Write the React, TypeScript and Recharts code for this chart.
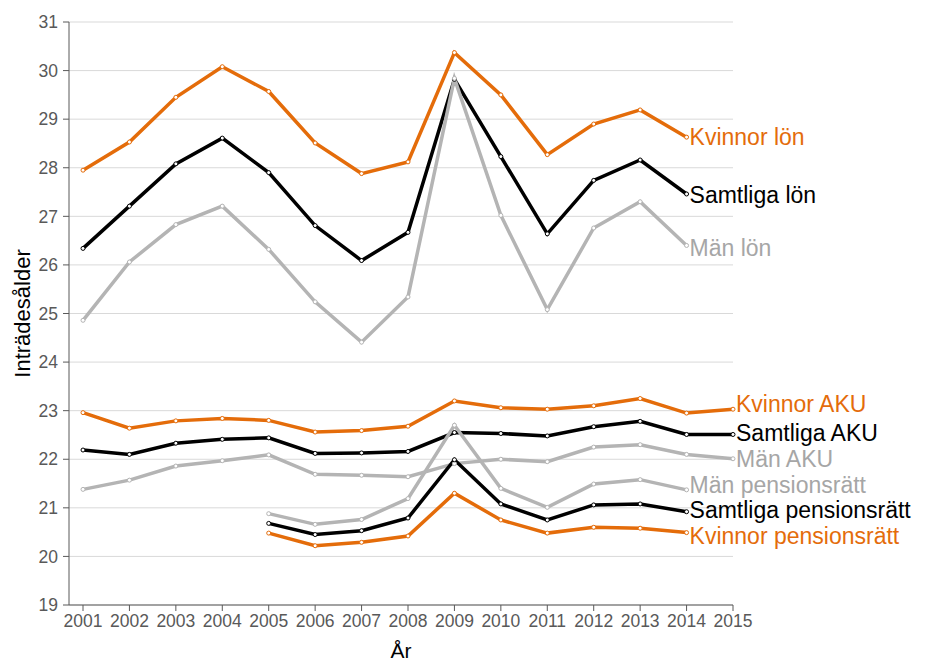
import React from 'react'
import { LineChart, Line, XAxis, YAxis, CartesianGrid } from 'recharts'

const YEARS = [2001, 2002, 2003, 2004, 2005, 2006, 2007, 2008, 2009, 2010, 2011, 2012, 2013, 2014, 2015]
const Y_TICKS = [19, 20, 21, 22, 23, 24, 25, 26, 27, 28, 29, 30, 31]

const kvinnorLon = [27.95, 28.53, 29.45, 30.08, 29.57, 28.51, 27.88, 28.12, 30.37, 29.5, 28.27, 28.9, 29.19, 28.63, null]
const samtligaLon = [26.34, 27.21, 28.08, 28.61, 27.9, 26.81, 26.09, 26.67, 29.82, 28.23, 26.64, 27.74, 28.16, 27.46, null]
const manLon = [24.86, 26.06, 26.83, 27.21, 26.32, 25.24, 24.41, 25.34, 29.84, 27.02, 25.08, 26.76, 27.3, 26.4, null]

const kvinnorAku = [22.96, 22.64, 22.79, 22.84, 22.8, 22.56, 22.59, 22.68, 23.2, 23.06, 23.03, 23.1, 23.25, 22.95, 23.03]
const samtligaAku = [22.19, 22.1, 22.33, 22.41, 22.44, 22.12, 22.13, 22.16, 22.55, 22.53, 22.48, 22.67, 22.78, 22.51, 22.51]
const manAku = [21.38, 21.57, 21.86, 21.97, 22.09, 21.69, 21.67, 21.64, 21.91, 22.0, 21.95, 22.25, 22.3, 22.1, 22.01]

const manPension = [null, null, null, null, 20.88, 20.66, 20.76, 21.19, 22.7, 21.4, 21.01, 21.49, 21.58, 21.37, null]
const samtligaPension = [null, null, null, null, 20.68, 20.45, 20.53, 20.79, 21.99, 21.08, 20.75, 21.06, 21.08, 20.92, null]
const kvinnorPension = [null, null, null, null, 20.48, 20.22, 20.29, 20.42, 21.3, 20.75, 20.48, 20.6, 20.58, 20.49, null]

const ORANGE = '#E46C0A'
const BLACK = '#000000'
const GRAY = '#B4B4B4'
const GRAY_TEXT = '#A6A6A6'
const AXIS = '#595959'

// labelDy nudges the end label so neighbouring names don't collide
const SERIES = [
  { key: 'kvinnorLon', name: 'Kvinnor lön', values: kvinnorLon, color: ORANGE, text: ORANGE, labelDy: 0 },
  { key: 'samtligaLon', name: 'Samtliga lön', values: samtligaLon, color: BLACK, text: BLACK, labelDy: 1 },
  { key: 'manLon', name: 'Män lön', values: manLon, color: GRAY, text: GRAY_TEXT, labelDy: 2 },
  { key: 'manAku', name: 'Män AKU', values: manAku, color: GRAY, text: GRAY_TEXT, labelDy: 0 },
  { key: 'samtligaAku', name: 'Samtliga AKU', values: samtligaAku, color: BLACK, text: BLACK, labelDy: -2 },
  { key: 'kvinnorAku', name: 'Kvinnor AKU', values: kvinnorAku, color: ORANGE, text: ORANGE, labelDy: -5 },
  { key: 'manPension', name: 'Män pensionsrätt', values: manPension, color: GRAY, text: GRAY_TEXT, labelDy: -5 },
  { key: 'samtligaPension', name: 'Samtliga pensionsrätt', values: samtligaPension, color: BLACK, text: BLACK, labelDy: -2 },
  { key: 'kvinnorPension', name: 'Kvinnor pensionsrätt', values: kvinnorPension, color: ORANGE, text: ORANGE, labelDy: 3 },
]

const data = YEARS.map((year, i) => {
  const row: Record<string, number | null> = { year }
  SERIES.forEach(s => { row[s.key] = s.values[i] })
  return row
})

function lastIndex(values: (number | null)[]) {
  let last = -1
  values.forEach((v, i) => { if (v != null) last = i })
  return last
}

// dot renderer that also puts the series name next to the final point
function makeDot(name: string, color: string, textColor: string, last: number, labelDy: number) {
  return (props: any) => {
    const { cx, cy, index } = props
    if (cx == null || cy == null || props.value == null) return <g key={`d-${name}-${index}`} />
    return (
      <g key={`d-${name}-${index}`}>
        <circle cx={cx} cy={cy} r={2} fill="#fff" stroke={color} strokeWidth={1} />
        {index === last && (
          <text x={cx + 3} y={cy + labelDy} dy="0.36em" fill={textColor} fontSize={23}>
            {name}
          </text>
        )}
      </g>
    )
  }
}

const XLabel = (props: any) => {
  const { viewBox } = props
  return (
    <text x={viewBox.x + viewBox.width / 2} y={650} dy="0.36em" textAnchor="middle" fill="#000" fontSize={21}>
      År
    </text>
  )
}

const YLabel = (props: any) => {
  const { viewBox } = props
  const cy = viewBox.y + viewBox.height / 2
  return (
    <text x={22} y={cy} dy="0.36em" textAnchor="middle" fill="#000" fontSize={22} transform={`rotate(-90 22 ${cy})`}>
      Inträdesålder
    </text>
  )
}

export default function App() {
  return (
    <div style={{ position: 'absolute', left: 0, top: 0, width: 934, height: 661, background: '#fff', fontFamily: '"Liberation Sans", Arial, sans-serif' }}>
      <LineChart width={934} height={661} data={data} margin={{ top: 22, right: 201, bottom: 26, left: 0 }}>
        <CartesianGrid vertical={false} stroke="#D9D9D9" />
        <XAxis
          dataKey="year"
          type="number"
          domain={[2001, 2015]}
          ticks={YEARS}
          padding={{ left: 14, right: 0 }}
          height={30}
          stroke={AXIS}
          tickSize={6}
          tickMargin={4}
          tick={{ fill: AXIS, fontSize: 17.5 }}
          label={<XLabel />}
        />
        <YAxis
          type="number"
          domain={[19, 31]}
          ticks={Y_TICKS}
          width={69}
          stroke={AXIS}
          tickSize={6}
          tickMargin={5}
          tick={{ fill: AXIS, fontSize: 17.5 }}
          label={<YLabel />}
        />
        {SERIES.map(s => (
          <Line
            key={s.key}
            dataKey={s.key}
            stroke={s.color}
            strokeWidth={3.5}
            dot={makeDot(s.name, s.color, s.text, lastIndex(s.values), s.labelDy)}
            activeDot={false}
            connectNulls={false}
            isAnimationActive={false}
          />
        ))}
      </LineChart>
    </div>
  )
}
